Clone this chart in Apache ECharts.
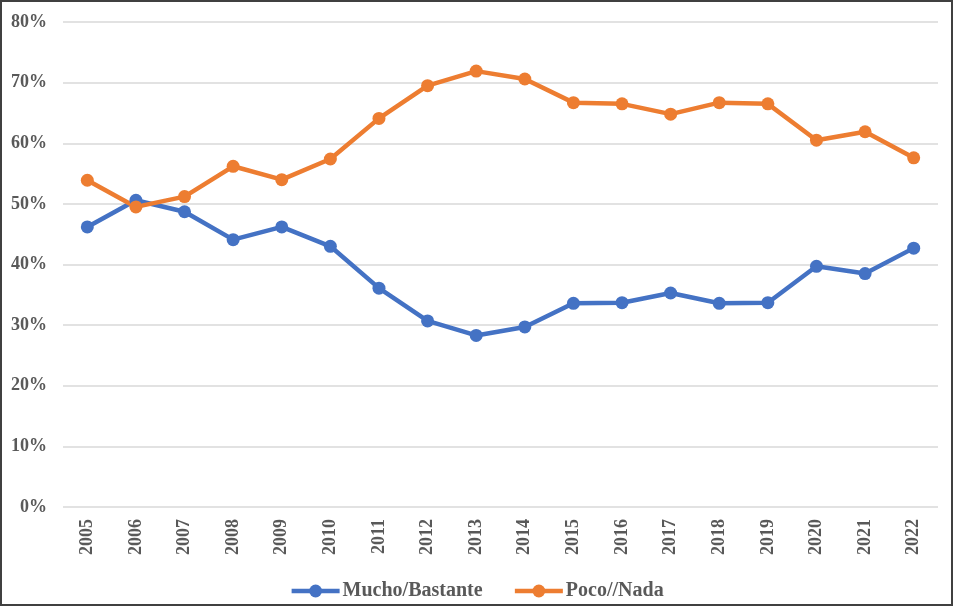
<!DOCTYPE html>
<html><head><meta charset="utf-8">
<script src="https://cdn.jsdelivr.net/npm/echarts@6/dist/echarts.min.js"></script>
<style>html,body{margin:0;padding:0;background:#fff}#c{width:953px;height:606px;box-sizing:border-box;border:2px solid #404040}</style>
</head><body><div id="c"></div>
<script>
const years = ['2005','2006','2007','2008','2009','2010','2011','2012','2013','2014','2015','2016','2017','2018','2019','2020','2021','2022'];
const mucho = [46.2,50.6,48.7,44.1,46.2,43.0,36.1,30.7,28.3,29.7,33.6,33.7,35.3,33.6,33.7,39.7,38.5,42.7];
const poco = [53.9,49.5,51.2,56.2,54.0,57.4,64.1,69.5,71.9,70.6,66.7,66.5,64.8,66.7,66.5,60.5,61.9,57.6];
const font = '"Liberation Serif", "DejaVu Serif", serif';
const chart = echarts.init(document.getElementById('c'));
chart.setOption({
  animation:false,
  textStyle:{fontFamily:font},
  grid:{left:61,right:13,top:20,bottom:97},
  legend:{bottom:-2,left:'center',itemWidth:48,itemHeight:16,itemGap:30,
    lineStyle:{width:4.5},
    textStyle:{fontFamily:font,fontSize:20,fontWeight:'bold',color:'#595959',padding:[0,0,0,-2]},
    data:['Mucho/Bastante','Poco//Nada']},
  xAxis:{type:'category',data:years,boundaryGap:true,
    axisLine:{show:false},axisTick:{show:false},
    axisLabel:{rotate:90,fontSize:18,fontWeight:'bold',color:'#595959',margin:12,fontFamily:font}},
  yAxis:{type:'value',min:0,max:80,interval:10,
    axisLabel:{formatter:'{value}%',fontSize:18,fontWeight:'bold',color:'#595959',margin:16,fontFamily:font},
    splitLine:{lineStyle:{color:'#d9d9d9',width:1.5}},axisLine:{show:false},axisTick:{show:false}},
  series:[
    {name:'Mucho/Bastante',type:'line',data:mucho,color:'#4472C4',symbol:'circle',symbolSize:13,
     lineStyle:{width:4.5},itemStyle:{color:'#4472C4'}},
    {name:'Poco//Nada',type:'line',data:poco,color:'#ED7D31',symbol:'circle',symbolSize:13,
     lineStyle:{width:4.5},itemStyle:{color:'#ED7D31'}}
  ]
});
</script></body></html>
